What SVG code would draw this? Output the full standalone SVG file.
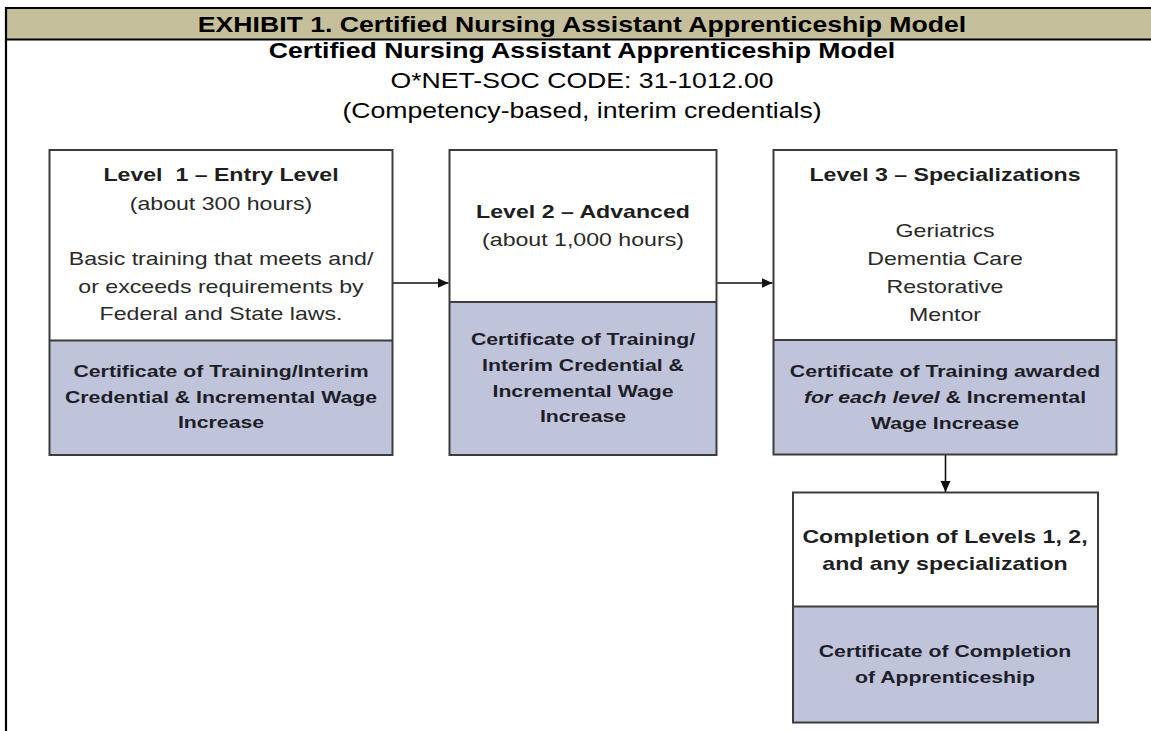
<svg xmlns="http://www.w3.org/2000/svg" width="1151" height="731" viewBox="0 0 1151 731">
<style>
text{font-family:"Liberation Sans",Arial,Helvetica,sans-serif;text-anchor:middle}
.hd{font-size:21.3px;font-weight:bold;fill:#000}
.hr{font-size:21.3px;fill:#000}
.tt{font-size:18.5px;font-weight:bold;fill:#1e1e1e}
.rg{font-size:18.5px;fill:#2a2a2a}
.ct{font-size:17px;font-weight:bold;fill:#1e1e28}
.bx{stroke:#3c3c3c;stroke-width:2}
.top{fill:#ffffff}
.bot{fill:#c0c4db}
.cn{stroke:#111;stroke-width:1.6;fill:none}
</style>
<defs>
<marker id="ah" markerWidth="12" markerHeight="12" refX="11" refY="6" orient="auto" markerUnits="userSpaceOnUse">
<path d="M0,1 L11,6 L0,11 Z" fill="#111"/>
</marker>
</defs>
<rect width="1151" height="731" fill="#ffffff"/>
<g id="frame">
<rect x="7" y="9" width="1144" height="30" fill="#c6bf9b"/>
<line x1="5" y1="8" x2="1151" y2="8" stroke="#000" stroke-width="2"/>
<line x1="6" y1="39.5" x2="1151" y2="39.5" stroke="#000" stroke-width="2.2"/>
<line x1="6" y1="7" x2="6" y2="731" stroke="#000" stroke-width="2.2"/>
<text class="hd" transform="translate(582,0) scale(1.25,1)" x="0" y="32">EXHIBIT 1. Certified Nursing Assistant Apprenticeship Model</text>
</g>
<g id="title">
<g transform="translate(582,0) scale(1.25,1)">
<text class="hd" x="0" y="58.5">Certified Nursing Assistant Apprenticeship Model</text>
<text class="hr" x="0" y="88">O*NET-SOC CODE: 31-1012.00</text>
<text class="hr" x="0" y="118">(Competency-based, interim credentials)</text>
</g>
</g>
<g id="connectors">
<line class="cn" x1="393" y1="283" x2="448.5" y2="283" marker-end="url(#ah)"/>
<line class="cn" x1="717" y1="283" x2="772.5" y2="283" marker-end="url(#ah)"/>
<line class="cn" x1="945.5" y1="455" x2="945.5" y2="492" marker-end="url(#ah)"/>
</g>
<g id="level1">
<rect class="top" x="49.5" y="150" width="343" height="190.5"/>
<rect class="bot" x="49.5" y="340.5" width="343" height="114.5"/>
<rect class="bx" fill="none" x="49.5" y="150" width="343" height="305"/>
<line class="bx" x1="49.5" y1="340.5" x2="392.5" y2="340.5"/>
<g transform="translate(221,0) scale(1.25,1)">
<text class="tt" x="0" y="181">Level&#160; 1 – Entry Level</text>
<text class="rg" x="0" y="210">(about 300 hours)</text>
<text class="rg" x="0" y="265.5">Basic training that meets and/</text>
<text class="rg" x="0" y="293">or exceeds requirements by</text>
<text class="rg" x="0" y="320.5">Federal and State laws.</text>
<text class="ct" x="0" y="377">Certificate of Training/Interim</text>
<text class="ct" x="0" y="403">Credential &amp; Incremental Wage</text>
<text class="ct" x="0" y="428.5">Increase</text>
</g>
</g>
<g id="level2">
<rect class="top" x="449.5" y="150" width="267" height="152"/>
<rect class="bot" x="449.5" y="302" width="267" height="153"/>
<rect class="bx" fill="none" x="449.5" y="150" width="267" height="305"/>
<line class="bx" x1="449.5" y1="302" x2="716.5" y2="302"/>
<g transform="translate(583,0) scale(1.25,1)">
<text class="tt" x="0" y="218.5">Level 2 – Advanced</text>
<text class="rg" x="0" y="246.5">(about 1,000 hours)</text>
<text class="ct" x="0" y="345">Certificate of Training/</text>
<text class="ct" x="0" y="371.5">Interim Credential &amp;</text>
<text class="ct" x="0" y="397.5">Incremental Wage</text>
<text class="ct" x="0" y="422.5">Increase</text>
</g>
</g>
<g id="level3">
<rect class="top" x="773.5" y="150" width="343" height="190"/>
<rect class="bot" x="773.5" y="340" width="343" height="114.5"/>
<rect class="bx" fill="none" x="773.5" y="150" width="343" height="304.5"/>
<line class="bx" x1="773.5" y1="340" x2="1116.5" y2="340"/>
<g transform="translate(945,0) scale(1.25,1)">
<text class="tt" x="0" y="181">Level 3 – Specializations</text>
<text class="rg" x="0" y="237.5">Geriatrics</text>
<text class="rg" x="0" y="265.5">Dementia Care</text>
<text class="rg" x="0" y="293">Restorative</text>
<text class="rg" x="0" y="321">Mentor</text>
<text class="ct" x="0" y="377">Certificate of Training awarded</text>
<text class="ct" x="0" y="403"><tspan font-style="italic">for each level</tspan> &amp; Incremental</text>
<text class="ct" x="0" y="429">Wage Increase</text>
</g>
</g>
<g id="completion">
<rect class="top" x="793" y="492.5" width="305" height="114"/>
<rect class="bot" x="793" y="606.5" width="305" height="116"/>
<rect class="bx" fill="none" x="793" y="492.5" width="305" height="230"/>
<line class="bx" x1="793" y1="606.5" x2="1098" y2="606.5"/>
<g transform="translate(945,0) scale(1.25,1)">
<text class="tt" x="0" y="543">Completion of Levels 1, 2,</text>
<text class="tt" x="0" y="570">and any specialization</text>
<text class="ct" x="0" y="657">Certificate of Completion</text>
<text class="ct" x="0" y="683">of Apprenticeship</text>
</g>
</g>
</svg>
